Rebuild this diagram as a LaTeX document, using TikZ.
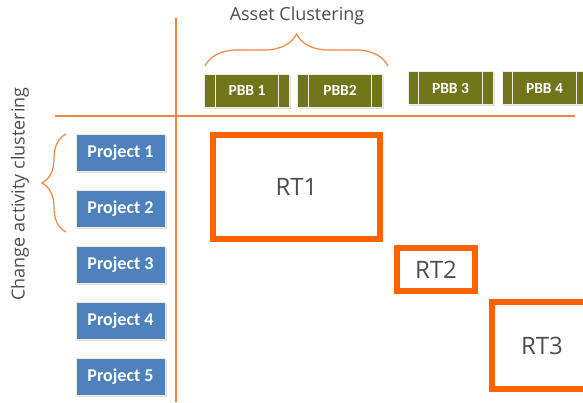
\documentclass[tikz,border=0pt]{standalone}
\usepackage{fontspec}
\setmainfont{Open Sans}
\newfontfamily\boxfont{Carlito}
\usetikzlibrary{decorations.pathreplacing,shadows}
\definecolor{ingorange}{HTML}{FF6200}
\definecolor{lineorange}{HTML}{F4843F}
\definecolor{pbbolive}{HTML}{6F7518}
\definecolor{projblue}{HTML}{4F81BD}
\definecolor{textgray}{HTML}{4D4D4D}

\begin{document}
\begin{tikzpicture}[x=1pt, y=-1pt, every node/.style={inner sep=0pt},
  axis/.style={lineorange, line width=1.2pt},
  curly/.style={lineorange, line width=1.2pt, decorate, decoration={brace, amplitude=#1}},
  label/.style={text=textgray, font=\fontsize{18}{18}\selectfont},
  proj/.style={fill=projblue, draw=white!85!gray, minimum width=89pt, minimum height=37pt,
    text=white, font=\boxfont\bfseries\fontsize{18}{18}\selectfont,
    drop shadow={shadow xshift=1.5pt, shadow yshift=-1.5pt, opacity=0.25}},
  pbb/.style={fill=pbbolive, draw=white!85!gray, minimum width=85pt, minimum height=33pt,
    text=white, font=\boxfont\bfseries\fontsize{15.5}{15.5}\selectfont,
    drop shadow={shadow xshift=1.5pt, shadow yshift=-1.5pt, opacity=0.25}},
  rt/.style={draw=ingorange, line width=6pt, text=textgray, font=\fontsize{24}{24}\selectfont}]
  \useasboundingbox (0,0) rectangle (583,402);

  \draw[axis] (176,18) -- (176,402);
  \draw[axis] (55,116) -- (575,116);

  \node[label] (assetlbl) at (297,16) {Asset Clustering};
  \node[label, rotate=90] (changelbl) at (20,194) {Change activity clustering};

  \foreach \n/\x/\y/\t in {1/247/90.5/PBB 1, 2/340/90.5/PBB2, 3/450.5/88/PBB 3, 4/544.5/88/PBB 4} {
    \node[pbb] (pbb\n) at (\x,\y) {\t};
    \draw[white!85!gray, line width=1pt] ([xshift=11pt]pbb\n.north west) -- ([xshift=11pt]pbb\n.south west);
    \draw[white!85!gray, line width=1pt] ([xshift=-11pt]pbb\n.north east) -- ([xshift=-11pt]pbb\n.south east);
  }
  \draw[curly=32pt] (205,66) -- (388,66);

  \foreach \n in {1,...,5} {
    \node[proj] (proj\n) at (120.5,{96.5+56*\n}) {Project \n};
  }
  \draw[curly=24pt] (66,232) -- (66,134);

  \node[rt, minimum width=167pt, minimum height=104pt] (rt1) at (296.5,187) {RT1};
  \node[rt, minimum width=78pt, minimum height=43pt] (rt2) at (436,269.5) {RT2};
  \node[rt, minimum width=100pt, minimum height=87pt] (rt3) at (542,345.5) {RT3};
\end{tikzpicture}
\end{document}
